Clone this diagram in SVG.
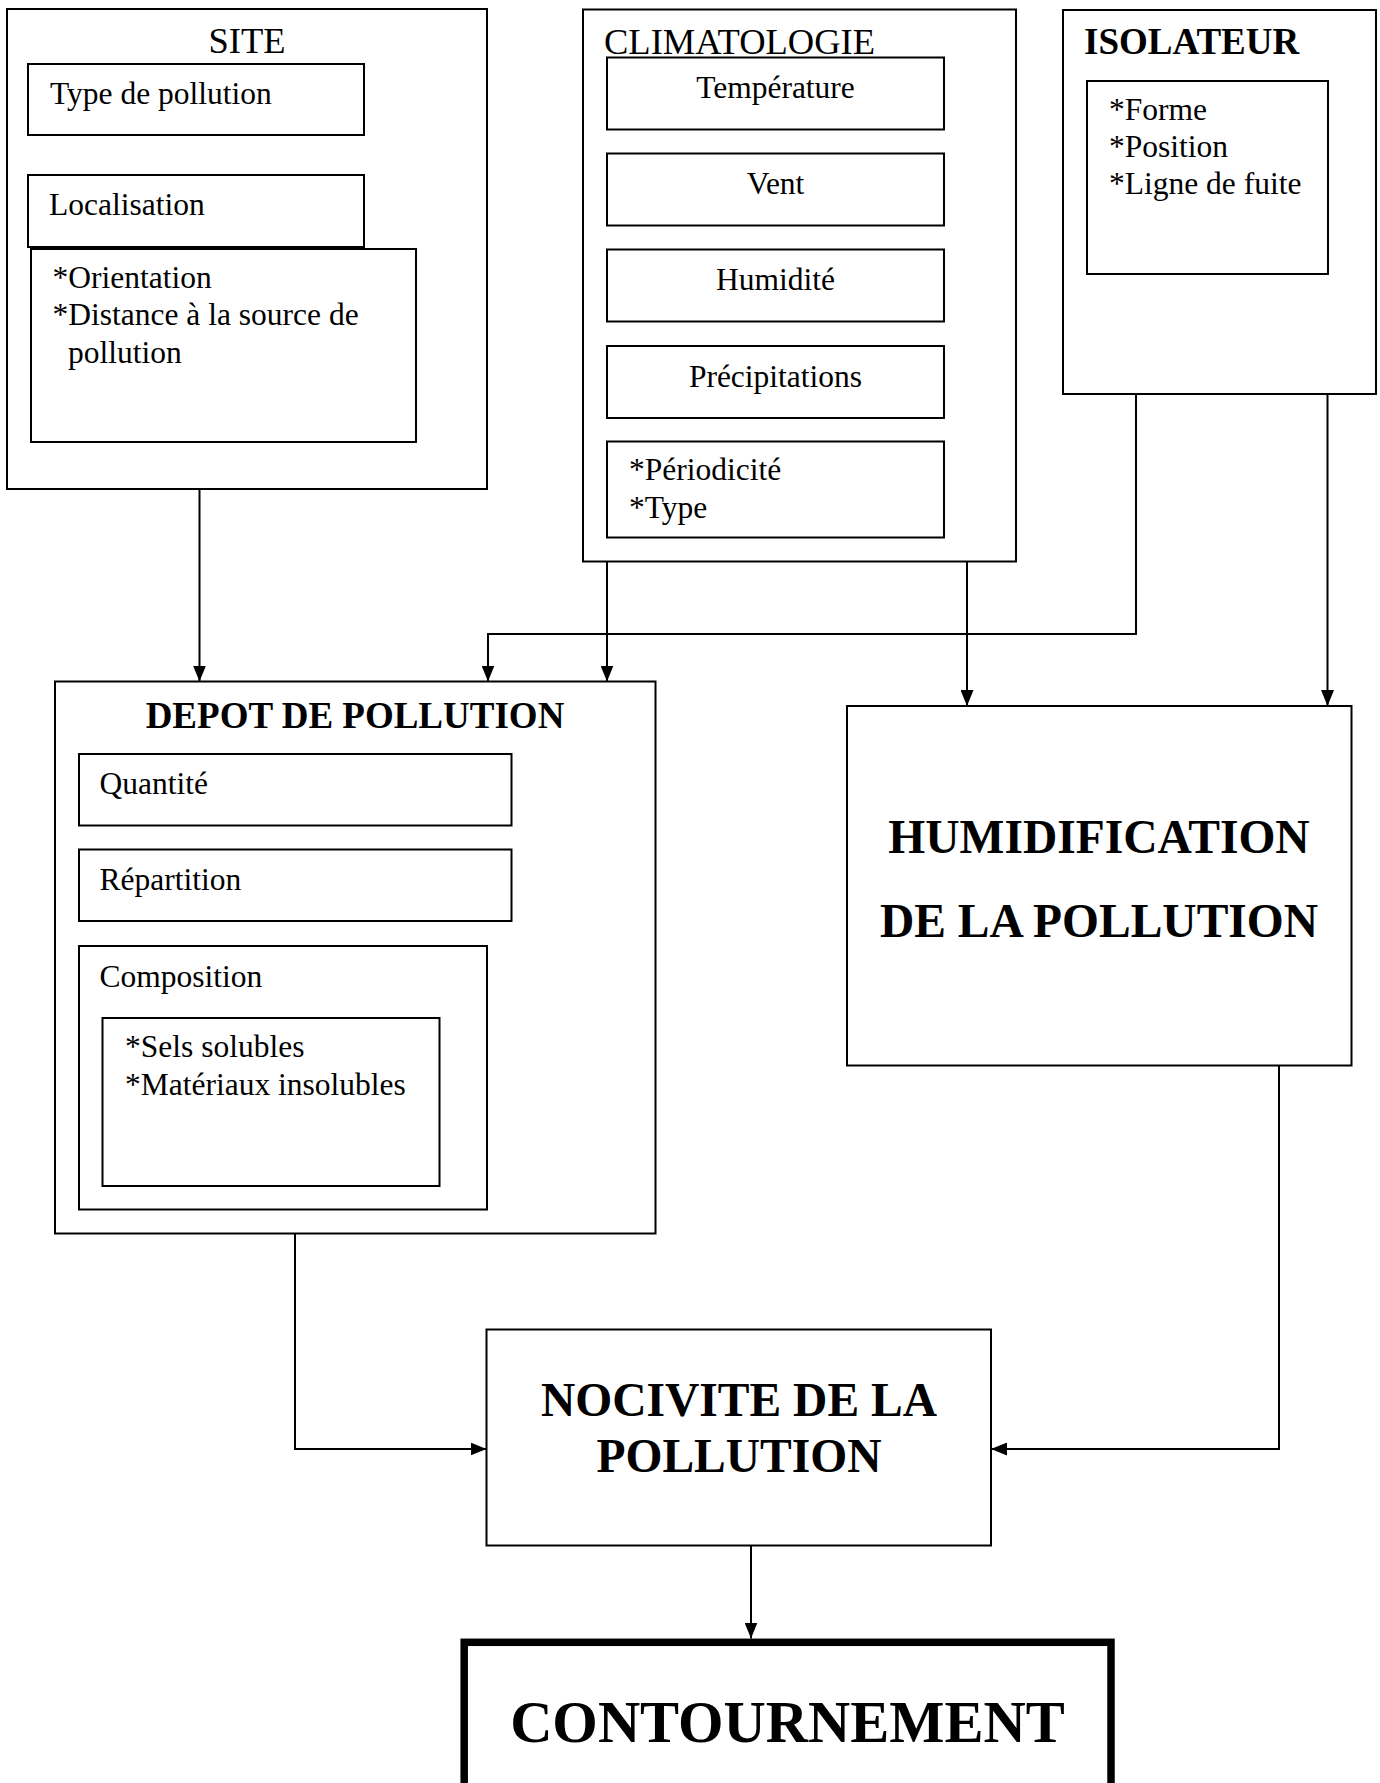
<svg xmlns="http://www.w3.org/2000/svg" width="1380" height="1783" viewBox="0 0 1380 1783">
<defs>
<marker id="arr" markerUnits="userSpaceOnUse" markerWidth="16" markerHeight="13" refX="16" refY="6.5" orient="auto">
<path d="M0,0 L16,6.5 L0,13 z" fill="#000"/>
</marker>
<style>
.box{fill:none;stroke:#000;stroke-width:2}
.thick{fill:none;stroke:#000;stroke-width:7.5}
.t{font-family:"Liberation Serif","Times New Roman",serif;font-size:31.5px;fill:#000}
.h{font-family:"Liberation Serif","Times New Roman",serif;font-size:36.5px;fill:#000}
.hb{font-family:"Liberation Serif","Times New Roman",serif;font-size:37px;font-weight:bold;fill:#000}
.big{font-family:"Liberation Serif","Times New Roman",serif;font-size:47.5px;font-weight:bold;fill:#000}
.huge{font-family:"Liberation Serif","Times New Roman",serif;font-size:58.5px;font-weight:bold;fill:#000}
.c{text-anchor:middle}
.conn{fill:none;stroke:#000;stroke-width:2;marker-end:url(#arr)}
</style>
</defs>
<rect width="1380" height="1783" fill="#fff"/>

<g id="site">
<rect class="box" x="7" y="9" width="480" height="480"/>
<text class="h c" x="247" y="53">SITE</text>
<rect class="box" x="28" y="64" width="336" height="71"/>
<text class="t" x="50" y="104">Type de pollution</text>
<rect class="box" x="28" y="175" width="336" height="72"/>
<text class="t" x="49" y="215">Localisation</text>
<rect class="box" x="31" y="249" width="385" height="193"/>
<text class="t" x="52.5" y="288">*Orientation</text>
<text class="t" x="52.5" y="325">*Distance à la source de</text>
<text class="t" x="68" y="363">pollution</text>
</g>

<g id="climatologie">
<rect class="box" x="583" y="9.5" width="433" height="552"/>
<text class="h" x="604" y="53.5">CLIMATOLOGIE</text>
<rect class="box" x="607" y="57.5" width="337" height="72"/>
<text class="t c" x="775.5" y="98">Température</text>
<rect class="box" x="607" y="153.5" width="337" height="72"/>
<text class="t c" x="775.5" y="194">Vent</text>
<rect class="box" x="607" y="249.5" width="337" height="72"/>
<text class="t c" x="775.5" y="290">Humidité</text>
<rect class="box" x="607" y="346" width="337" height="72"/>
<text class="t c" x="775.5" y="387">Précipitations</text>
<rect class="box" x="607" y="441.5" width="337" height="96"/>
<text class="t" x="629" y="480">*Périodicité</text>
<text class="t" x="629" y="518">*Type</text>
</g>

<g id="isolateur">
<rect class="box" x="1063" y="10" width="313" height="384"/>
<text class="hb" x="1084" y="54">ISOLATEUR</text>
<rect class="box" x="1087" y="81" width="241" height="193"/>
<text class="t" x="1109" y="120">*Forme</text>
<text class="t" x="1109" y="157">*Position</text>
<text class="t" x="1109" y="194">*Ligne de fuite</text>
</g>

<g id="depot">
<rect class="box" x="55" y="681.5" width="600.5" height="552"/>
<text class="hb c" x="355" y="728">DEPOT DE POLLUTION</text>
<rect class="box" x="79" y="754" width="432.5" height="71.5"/>
<text class="t" x="99.5" y="794">Quantité</text>
<rect class="box" x="79" y="849.5" width="432.5" height="71.5"/>
<text class="t" x="99.5" y="889.5">Répartition</text>
<rect class="box" x="79" y="946" width="408" height="263.5"/>
<text class="t" x="99.5" y="986.5">Composition</text>
<rect class="box" x="102.5" y="1018" width="337" height="168"/>
<text class="t" x="125" y="1057">*Sels solubles</text>
<text class="t" x="125" y="1094.5">*Matériaux insolubles</text>
</g>

<g id="humidification">
<rect class="box" x="847" y="706" width="504.5" height="359.5"/>
<text class="big c" x="1099" y="853">HUMIDIFICATION</text>
<text class="big c" x="1099" y="936.5">DE LA POLLUTION</text>
</g>

<g id="nocivite">
<rect class="box" x="486.5" y="1329.5" width="504.5" height="216"/>
<text class="big c" x="739" y="1415.5">NOCIVITE DE LA</text>
<text class="big c" x="739" y="1471.5">POLLUTION</text>
</g>

<g id="contournement">
<rect class="thick" x="464.2" y="1642.3" width="646.8" height="200"/>
<text class="huge c" x="787.5" y="1742">CONTOURNEMENT</text>
</g>

<g id="connectors">
<path class="conn" d="M199.5,489 V681.5"/>
<path class="conn" d="M607,561.5 V681.5"/>
<path class="conn" d="M967,561.5 V706"/>
<path class="conn" d="M1136,394 V634 H488 V681.5"/>
<path class="conn" d="M1327.5,394 V706"/>
<path class="conn" d="M295,1233.5 V1449 H486.5"/>
<path class="conn" d="M1279,1065.5 V1449 H991"/>
<path class="conn" d="M751,1545.5 V1638.5"/>
</g>
</svg>
